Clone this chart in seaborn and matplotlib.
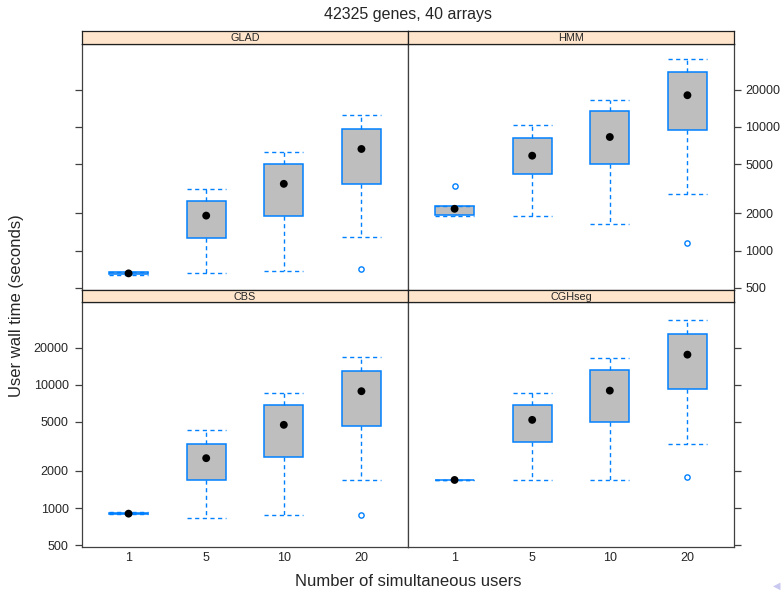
import numpy as np
import pandas as pd
import matplotlib
matplotlib.use("Agg")
import matplotlib.pyplot as plt
import seaborn as sns

# values (seconds), one box per number of users
users = ["1", "5", "10", "20"]
methods = ["GLAD", "HMM", "CBS", "CGHseg"]

glad_lo = [640, 655, 680, 1290]
glad_q1 = [645, 1267, 1890, 3490]
glad_med = [655, 1920, 3470, 6640]
glad_q3 = [668, 2510, 5050, 9680]
glad_hi = [672, 3140, 6270, 12590]
glad_out = [[], [], [], [706]]

hmm_lo = [1920, 1910, 1636, 2880]
hmm_q1 = [1930, 4130, 5050, 9510]
hmm_med = [2180, 5860, 8300, 18070]
hmm_q3 = [2300, 8200, 13560, 27600]
hmm_hi = [2300, 10320, 16550, 35400]
hmm_out = [[3340], [], [], [1160]]

cbs_lo = [890, 835, 872, 1700]
cbs_q1 = [893, 1690, 2610, 4625]
cbs_med = [900, 2540, 4740, 8890]
cbs_q3 = [915, 3340, 6890, 13060]
cbs_hi = [930, 4270, 8610, 16980]
cbs_out = [[], [], [], [883]]

cgh_lo = [1680, 1690, 1690, 3340]
cgh_q1 = [1680, 3410, 4980, 9290]
cgh_med = [1690, 5200, 8990, 17620]
cgh_q3 = [1700, 6840, 13150, 26060]
cgh_hi = [1700, 8550, 16440, 33400]
cgh_out = [[], [], [], [1773]]

yticks = [500, 1000, 2000, 5000, 10000, 20000]

sns.set_style("ticks")
plt.rcParams['font.family'] = ['Liberation Sans', 'DejaVu Sans']

panels = {
    "GLAD": (glad_lo, glad_q1, glad_med, glad_q3, glad_hi, glad_out),
    "HMM": (hmm_lo, hmm_q1, hmm_med, hmm_q3, hmm_hi, hmm_out),
    "CBS": (cbs_lo, cbs_q1, cbs_med, cbs_q3, cbs_hi, cbs_out),
    "CGHseg": (cgh_lo, cgh_q1, cgh_med, cgh_q3, cgh_hi, cgh_out),
}

W, H = 782, 591
fig = plt.figure(figsize=(W / 100, H / 100), dpi=100)

blue = '#0080ff'
frame = '#404040'
# pixel boxes of each plot area
x_left, x_mid, x_right = 82, 408, 734
top_area = (44, 289.5)
bot_area = (302.3, 546.7)
strip_h = 12.6
layout = {
    "GLAD": (x_left, x_mid, top_area, 0, 0),
    "HMM": (x_mid, x_right, top_area, 0, 1),
    "CBS": (x_left, x_mid, bot_area, 1, 0),
    "CGHseg": (x_mid, x_right, bot_area, 1, 1),
}

for name in methods:
    lo, q1, med, q3, hi, out = panels[name]
    x0, x1, (y0, y1), row, col = layout[name]
    ax = fig.add_axes([x0 / W, 1 - y1 / H, (x1 - x0) / W, (y1 - y0) / H])
    stats = []
    for i in range(len(users)):
        stats.append({'whislo': lo[i], 'q1': q1[i], 'med': med[i], 'q3': q3[i],
                      'whishi': hi[i], 'fliers': out[i]})
    ax.bxp(stats, positions=range(len(users)), widths=0.5, patch_artist=True,
           boxprops=dict(facecolor='#bebebe', edgecolor=blue, linewidth=1.1),
           whiskerprops=dict(color=blue, linestyle=(0, (3, 2.5)), linewidth=1),
           capprops=dict(color=blue, linestyle=(0, (3, 2.5)), linewidth=1),
           medianprops=dict(visible=False),
           flierprops=dict(marker='o', markerfacecolor='none', markeredgecolor=blue,
                           markersize=3.8, markeredgewidth=1),
           capwidths=0.5)
    df = pd.DataFrame({'pos': range(len(users)), 'median': med})
    sns.scatterplot(data=df, x='pos', y='median', ax=ax, color='black', s=32,
                    edgecolor='none', zorder=5)
    ax.set_yscale('log')
    ax.set_ylim(485, 46900)
    ax.set_xlim(-0.6, 3.6)
    ax.set_yticks(yticks)
    ax.set_yticklabels([str(t) for t in yticks])
    ax.yaxis.set_minor_locator(matplotlib.ticker.NullLocator())
    ax.set_xticks(range(len(users)))
    ax.set_xticklabels(users)
    ax.set_xlabel('')
    ax.set_ylabel('')
    for s in ax.spines.values():
        s.set_visible(True)
        s.set_color(frame)
        s.set_linewidth(0.9)
    ax.tick_params(axis='x', length=0, pad=4, labelsize=9, labelbottom=(row == 1))
    if col == 0:
        ax.tick_params(axis='y', left=True, right=False, labelleft=(row == 1),
                       labelright=False, length=5, width=0.9, color=frame,
                       labelsize=9, pad=4.5)
    else:
        ax.tick_params(axis='y', left=False, right=True, labelleft=False,
                       labelright=(row == 0), length=5, width=0.9, color=frame,
                       labelsize=9, pad=3)

    # strip on top of each panel
    sax = fig.add_axes([x0 / W, 1 - y0 / H, (x1 - x0) / W, strip_h / H])
    sax.set_facecolor('#ffe5cc')
    sax.set_xticks([])
    sax.set_yticks([])
    for s in sax.spines.values():
        s.set_color('#202020')
        s.set_linewidth(0.9)
    sax.text(0.5, 0.45, name, ha='center', va='center', fontsize=7.8,
             transform=sax.transAxes)

fig.text(408 / W, 1 - 15 / H, '42325 genes, 40 arrays', ha='center', va='center',
         fontsize=11.5)
fig.text(408 / W, 1 - 581 / H, 'Number of simultaneous users', ha='center',
         va='center', fontsize=12)
fig.text(17 / W, 1 - 306 / H, 'User wall time (seconds)', ha='center', va='center',
         rotation=90, fontsize=12)
fig.text(777 / W, 1 - 586 / H, '\u25c0', ha='center', va='center', fontsize=7,
         color='#c8c8f0', family='DejaVu Sans')

fig.savefig('out.png', dpi=100)
